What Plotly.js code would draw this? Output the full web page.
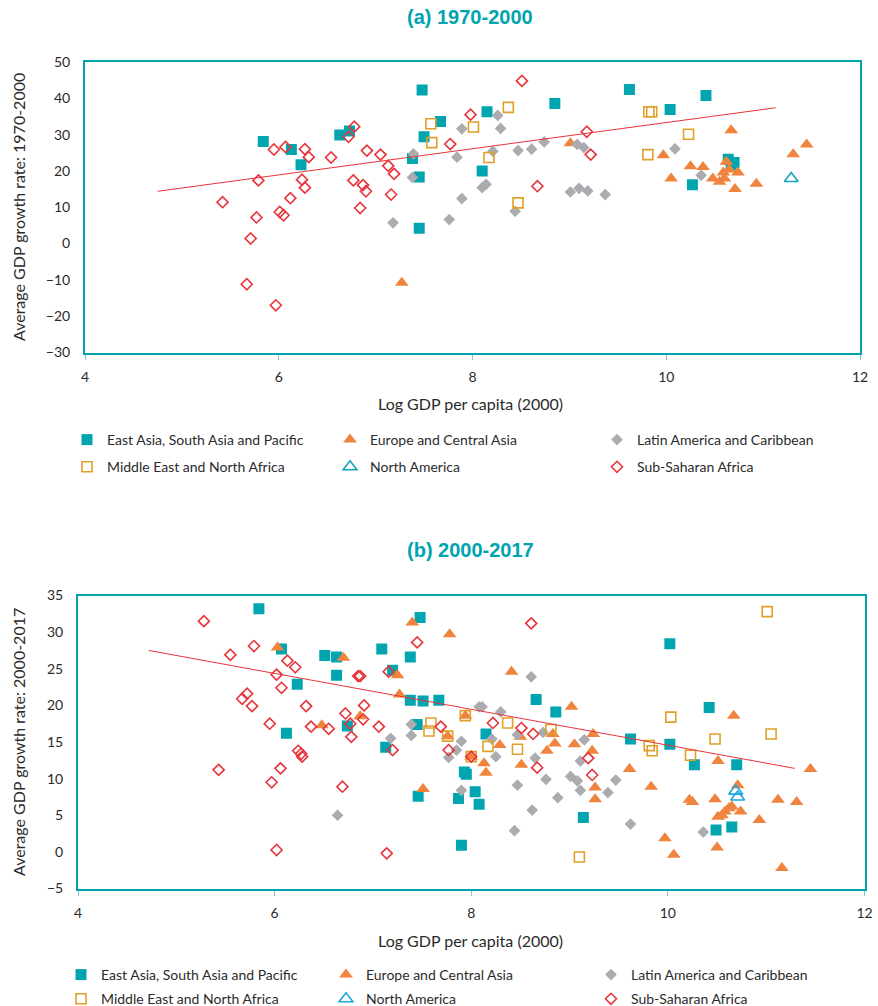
<!DOCTYPE html>
<html>
<head>
<meta charset="utf-8">
<script src="https://cdn.plot.ly/plotly-3.0.1.min.js"></script>
<style>
  html, body { margin: 0; padding: 0; background: #ffffff; overflow: hidden; }
  #chart { width: 878px; height: 1006px; }
</style>
</head>
<body>
<div id="chart"></div>
<script>
// Region names used for the legend entries
const regionNames = [
  "East Asia, South Asia and Pacific",
  "Europe and Central Asia",
  "Latin America and Caribbean",
  "Middle East and North Africa",
  "North America",
  "Sub-Saharan Africa"
];

// ---------- Panel (a): 1970-2000 ----------
// x = log GDP per capita (2000), y = average GDP growth rate 1970-2000
const a_eap_x = [5.84, 6.13, 6.23, 6.63, 6.73, 7.38, 7.45, 7.45, 7.48, 7.50, 7.67, 8.10, 8.15, 8.85, 9.62, 10.04, 10.41, 10.27, 10.64, 10.70, 10.67];
const a_eap_y = [28.1, 25.9, 21.7, 29.9, 31.0, 23.4, 18.3, 4.2, 42.3, 29.4, 33.6, 20.0, 36.3, 38.6, 42.4, 36.9, 40.8, 16.2, 23.2, 22.3, 21.8];

const a_eca_x = [7.27, 9.01, 9.97, 10.05, 10.25, 10.38, 10.67, 10.48, 10.55, 10.60, 10.59, 10.65, 10.62, 10.74, 10.71, 10.93, 11.31, 11.45];
const a_eca_y = [-10.8, 27.6, 24.3, 17.9, 21.3, 21.1, 31.2, 17.9, 17.0, 17.9, 19.6, 20.4, 22.5, 19.6, 15.0, 16.5, 24.6, 27.3];

const a_lac_x = [7.18, 7.39, 7.38, 7.89, 7.84, 7.89, 7.76, 8.26, 8.29, 8.21, 8.10, 8.14, 8.47, 8.61, 8.74, 8.44, 9.08, 9.15, 9.01, 9.10, 9.19, 9.37, 10.09, 10.36];
const a_lac_y = [5.7, 24.7, 18.2, 31.6, 23.8, 12.4, 6.6, 35.3, 31.7, 25.4, 15.4, 16.3, 25.6, 26.0, 28.0, 8.9, 27.3, 26.4, 14.2, 15.2, 14.5, 13.5, 26.1, 18.8];

const a_mena_x = [7.57, 7.58, 8.01, 8.37, 8.17, 8.47, 9.82, 9.85, 9.81, 10.23];
const a_mena_y = [33.0, 27.8, 32.1, 37.5, 23.7, 11.2, 36.3, 36.3, 24.5, 30.1];

const a_na_x = [11.29];
const a_na_y = [17.9];

const a_ssa_x = [5.42, 5.67, 5.71, 5.77, 5.79, 5.95, 5.97, 6.01, 6.05, 6.07, 6.12, 6.24, 6.27, 6.27, 6.31, 6.54, 6.72, 6.78, 6.77, 6.87, 6.90, 6.84, 6.91, 7.05, 7.13, 7.19, 7.16, 7.77, 7.98, 8.51, 8.67, 9.18, 9.22];
const a_ssa_y = [11.4, -11.2, 1.4, 7.2, 17.4, 25.9, -17.0, 8.7, 7.8, 26.6, 12.5, 17.6, 15.4, 26.0, 23.8, 23.7, 29.4, 32.2, 17.4, 16.1, 14.4, 9.8, 25.6, 24.5, 21.4, 19.2, 13.5, 27.4, 35.5, 44.8, 15.8, 30.8, 24.5];

// Linear trend line endpoints
const a_trend_x = [4.75, 11.13];
const a_trend_y = [14.4, 37.4];

// ---------- Panel (b): 2000-2017 ----------
const b_eap_x = [5.84, 6.07, 6.12, 6.23, 6.51, 6.63, 6.63, 6.74, 7.09, 7.20, 7.38, 7.48, 7.13, 7.38, 7.51, 7.67, 7.45, 7.46, 7.93, 7.95, 8.04, 7.87, 8.08, 7.90, 8.15, 8.66, 8.86, 9.14, 9.62, 10.02, 10.02, 10.42, 10.27, 10.70, 10.49, 10.65];
const b_eap_y = [33.2, 27.7, 16.2, 22.9, 26.8, 26.6, 24.1, 17.2, 27.7, 24.8, 26.6, 32.0, 14.3, 20.7, 20.6, 20.7, 17.4, 7.6, 10.9, 10.6, 8.2, 7.3, 6.5, 0.9, 16.1, 20.8, 19.1, 4.7, 15.4, 28.4, 14.7, 19.7, 11.9, 11.9, 3.0, 3.4];

const b_eca_x = [6.03, 6.70, 6.48, 6.87, 7.25, 7.27, 7.40, 7.78, 7.51, 7.76, 7.94, 8.00, 8.41, 9.02, 8.83, 8.50, 8.29, 8.85, 8.77, 9.05, 9.24, 9.23, 8.13, 8.15, 8.51, 9.26, 9.26, 9.61, 9.83, 9.97, 10.67, 10.51, 11.45, 10.71, 10.22, 10.25, 10.48, 11.12, 11.31, 10.62, 10.65, 10.58, 10.55, 10.74, 10.51, 10.93, 10.06, 10.50, 11.16];
const b_eca_y = [27.9, 26.5, 17.3, 18.5, 24.1, 21.5, 31.3, 29.7, 8.6, 15.8, 18.6, 13.0, 24.6, 19.8, 16.1, 15.7, 14.6, 14.8, 13.8, 14.7, 16.1, 13.8, 12.1, 10.8, 11.9, 8.8, 7.2, 11.3, 8.9, 1.85, 18.6, 12.4, 11.3, 9.1, 7.1, 6.8, 7.2, 7.1, 6.8, 5.95, 6.2, 5.5, 5.0, 5.5, 4.8, 4.35, -0.4, 0.6, -2.2];

const b_lac_x = [6.64, 7.39, 7.39, 7.18, 7.90, 7.85, 7.77, 8.08, 7.90, 8.11, 8.30, 8.61, 8.73, 8.47, 8.21, 9.15, 9.11, 8.25, 8.65, 8.76, 9.01, 9.08, 9.11, 9.39, 9.47, 8.47, 8.88, 8.62, 8.44, 9.62, 10.36];
const b_lac_y = [5.0, 17.4, 15.9, 15.5, 15.1, 13.9, 12.9, 19.8, 8.4, 19.8, 19.1, 23.9, 16.3, 16.0, 15.4, 15.3, 12.4, 13.0, 12.8, 9.9, 10.3, 9.7, 8.4, 8.1, 9.8, 9.1, 7.4, 5.7, 2.9, 3.8, 2.7];

const b_mena_x = [7.59, 7.57, 7.76, 7.94, 8.00, 8.37, 8.81, 8.17, 8.47, 9.10, 9.81, 9.84, 10.03, 10.48, 11.05, 10.23, 11.01];
const b_mena_y = [17.6, 16.5, 15.8, 18.6, 13.0, 17.6, 16.7, 14.4, 14.0, -0.7, 14.5, 13.8, 18.4, 15.4, 16.1, 13.2, 32.8];

const b_na_x = [10.69, 10.71];
const b_na_y = [8.3, 7.5];

const b_ssa_x = [5.28, 5.79, 5.55, 6.13, 6.21, 6.02, 6.07, 5.72, 5.67, 5.77, 5.95, 5.43, 6.06, 5.97, 6.02, 6.32, 6.37, 6.55, 6.24, 6.27, 6.28, 6.72, 6.91, 6.77, 6.90, 6.78, 6.69, 6.85, 6.87, 7.06, 7.14, 7.16, 7.45, 7.69, 7.20, 7.77, 8.00, 8.61, 8.22, 8.51, 8.63, 9.19, 8.67, 9.23];
const b_ssa_y = [31.5, 28.1, 26.9, 26.1, 25.2, 24.2, 22.4, 21.6, 20.9, 19.9, 17.5, 11.2, 11.4, 9.5, 0.26, 19.9, 17.1, 16.8, 13.8, 13.4, 13.0, 18.9, 20.0, 17.5, 18.1, 15.7, 8.9, 24.0, 24.0, 17.1, -0.2, 24.6, 28.6, 17.1, 13.9, 13.9, 13.0, 31.2, 17.6, 16.9, 16.1, 12.8, 11.5, 10.5];

const b_trend_x = [4.72, 11.29];
const b_trend_y = [27.5, 11.4];

// ---------- Styling ----------
const W = 878, H = 1006;
const px = v => v / W;          // pixel -> paper x
const py = v => 1 - v / H;      // pixel -> paper y

const TEAL = "#00A4AF";
const FONT = "Lato, 'Open Sans', sans-serif";
const TEXT = "#2b2b2b";

const markerStyles = [
  { symbol: "square", size: 11, color: "#00A5B0", line: { width: 0 } },
  { symbol: "triangle-up", size: 12, color: "#F0843F", line: { width: 0 } },
  { symbol: "diamond", size: 9, color: "#ABACAF", line: { width: 0 } },
  { symbol: "square-open", size: 10, color: "#E0A027", line: { width: 1.6, color: "#E0A027" } },
  { symbol: "triangle-up-open", size: 12, color: "#14A3B8", line: { width: 1.6, color: "#14A3B8" } },
  { symbol: "diamond-open", size: 8.5, color: "#E8353B", line: { width: 1.6, color: "#E8353B" } }
];
const naBlue = "#1EA7DA";

function series(xs, ys, i, axes, legendId, group, markerOverride) {
  return {
    type: "scatter", mode: "markers",
    x: xs, y: ys, xaxis: axes[0], yaxis: axes[1],
    name: regionNames[i],
    legend: legendId, legendgroup: group,
    marker: markerOverride || markerStyles[i],
    hoverinfo: "x+y+name"
  };
}
function trend(xs, ys, axes) {
  return {
    type: "scatter", mode: "lines", x: xs, y: ys,
    xaxis: axes[0], yaxis: axes[1],
    line: { color: "#E8353B", width: 1 },
    showlegend: false, hoverinfo: "skip"
  };
}

const A = ["x", "y"], B = ["x2", "y2"];
const naMarkerB = Object.assign({}, markerStyles[4], { color: naBlue, line: { width: 1.6, color: naBlue } });

const traces = [
  series(a_eap_x, a_eap_y, 0, A, "legend", "a0"),
  series(a_eca_x, a_eca_y, 1, A, "legend2", "a1"),
  series(a_lac_x, a_lac_y, 2, A, "legend3", "a2"),
  series(a_mena_x, a_mena_y, 3, A, "legend", "a3"),
  series(a_na_x, a_na_y, 4, A, "legend2", "a4"),
  series(a_ssa_x, a_ssa_y, 5, A, "legend3", "a5"),
  trend(a_trend_x, a_trend_y, A),
  series(b_eap_x, b_eap_y, 0, B, "legend4", "b0"),
  series(b_eca_x, b_eca_y, 1, B, "legend5", "b1"),
  series(b_lac_x, b_lac_y, 2, B, "legend6", "b2"),
  series(b_mena_x, b_mena_y, 3, B, "legend4", "b3"),
  series(b_na_x, b_na_y, 4, B, "legend5", "b4", naMarkerB),
  series(b_ssa_x, b_ssa_y, 5, B, "legend6", "b5"),
  trend(b_trend_x, b_trend_y, B)
];

const tickFont = { family: FONT, size: 14, color: TEXT };
function xAxis(domain, anchor) {
  return {
    domain: domain, anchor: anchor, range: [4, 12], tick0: 4, dtick: 2,
    showline: true, linecolor: TEAL, linewidth: 2, mirror: true,
    showgrid: false, zeroline: false,
    ticks: "outside", ticklen: 5, tickwidth: 1, tickcolor: "#7FCBD1",
    ticklabelstandoff: 6, tickfont: tickFont, fixedrange: true
  };
}
function yAxis(domain, anchor, range, dtick) {
  return {
    domain: domain, anchor: anchor, range: range, tick0: range[0], dtick: dtick,
    showline: true, linecolor: TEAL, linewidth: 2, mirror: true,
    showgrid: false, zeroline: false, ticks: "",
    ticklabelstandoff: 10, tickfont: tickFont, fixedrange: true
  };
}

function legendBox(xPx, yPx, gap) {
  return {
    x: px(xPx), y: py(yPx), xanchor: "left", yanchor: "middle",
    orientation: "v", tracegroupgap: gap, bgcolor: "rgba(0,0,0,0)",
    font: { family: FONT, size: 14, color: TEXT }
  };
}

const titleFont = { family: "'Liberation Sans', Arial, sans-serif", size: 20, color: TEAL };
const axisTitleFont = { family: FONT, size: 16, color: TEXT };

const layout = {
  width: W, height: H,
  // fixed margins: the legends below each panel must not shrink the plot areas
  margin: { l: 0, r: 0, t: 0, b: 0, autoexpand: false },
  paper_bgcolor: "#ffffff", plot_bgcolor: "#ffffff",
  hovermode: "closest",
  xaxis: xAxis([px(85), px(860)], "y"),
  yaxis: yAxis([py(352.5), py(62)], "x", [-30, 50], 10),
  xaxis2: xAxis([px(78), px(864.5)], "y2"),
  yaxis2: yAxis([py(888.5), py(595.5)], "x2", [-5, 35], 5),
  legend: legendBox(67, 453.5, 6),
  legend2: legendBox(330, 453.5, 6),
  legend3: legendBox(597, 453.5, 6),
  legend4: legendBox(61, 987, 3),
  legend5: legendBox(326, 987, 3),
  legend6: legendBox(591, 987, 3),
  annotations: [
    { text: "<b>(a) 1970-2000</b>", x: px(470), y: py(17), xref: "paper", yref: "paper",
      showarrow: false, font: titleFont, xanchor: "center", yanchor: "middle" },
    { text: "<b>(b) 2000-2017</b>", x: px(470), y: py(550), xref: "paper", yref: "paper",
      showarrow: false, font: titleFont, xanchor: "center", yanchor: "middle" },
    { text: "Log GDP per capita (2000)", x: px(470), y: py(403), xref: "paper", yref: "paper",
      showarrow: false, font: axisTitleFont, xanchor: "center", yanchor: "middle" },
    { text: "Log GDP per capita (2000)", x: px(470), y: py(940), xref: "paper", yref: "paper",
      showarrow: false, font: axisTitleFont, xanchor: "center", yanchor: "middle" },
    { text: "Average GDP growth rate: 1970-2000", x: px(18), y: py(207), xref: "paper", yref: "paper",
      showarrow: false, font: axisTitleFont, textangle: -90, xanchor: "center", yanchor: "middle" },
    { text: "Average GDP growth rate: 2000-2017", x: px(18), y: py(742), xref: "paper", yref: "paper",
      showarrow: false, font: axisTitleFont, textangle: -90, xanchor: "center", yanchor: "middle" }
  ]
};

Plotly.newPlot("chart", traces, layout, { displayModeBar: false, responsive: false });
</script>
</body>
</html>
